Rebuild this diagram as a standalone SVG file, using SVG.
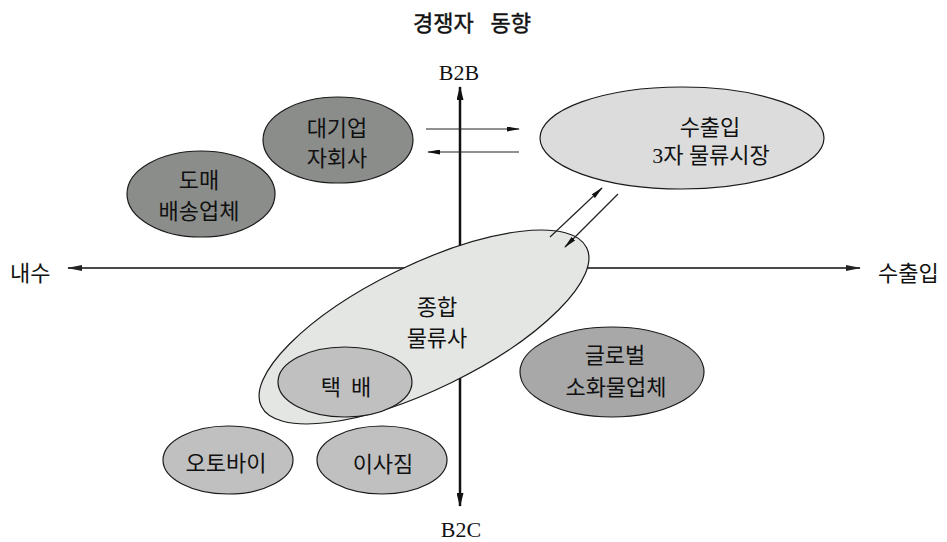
<svg xmlns="http://www.w3.org/2000/svg" width="947" height="542" viewBox="0 0 947 542">
  <style>
    .lbl { font-family: "Liberation Serif", "Noto Sans CJK KR", serif; font-size: 22px; fill: #111; }
    .ko { font-family: "Noto Sans CJK KR", "Liberation Sans", sans-serif; font-size: 22px; fill: #111; }
    .mid { text-anchor: middle; }
    .node { stroke: #1a1a1a; stroke-width: 1.2; }
    .dark { fill: #8b8d8b; }
    .mgrey { fill: #a8a8a8; }
    .lgrey { fill: #c0c0c0; }
    .pale { fill: #dcdcdc; }
    .paler { fill: #e3e6e3; }
    .flow { stroke: #222; stroke-width: 1.2; fill: none; }
  </style>
  <defs>
    <marker id="axisHead" viewBox="0 0 14 7" refX="13" refY="3.5" markerWidth="14" markerHeight="7" markerUnits="userSpaceOnUse" orient="auto-start-reverse">
      <path d="M0,0 L14,3.5 L0,7 Z" fill="#111"/>
    </marker>
    <marker id="hAxisHead" viewBox="0 0 15 6" refX="14" refY="3" markerWidth="15" markerHeight="6" markerUnits="userSpaceOnUse" orient="auto-start-reverse">
      <path d="M0,0 L15,3 L0,6 Z" fill="#222"/>
    </marker>
    <marker id="flowHead" viewBox="0 0 13 5" refX="12" refY="2.5" markerWidth="13" markerHeight="5" markerUnits="userSpaceOnUse" orient="auto">
      <path d="M0,0 L13,2.5 L0,5 Z" fill="#111"/>
    </marker>
  </defs>

  <rect width="947" height="542" fill="#fff"/>

  <!-- title -->
  <text class="ko mid" x="472" y="31" style="font-size:22px;stroke:#111;stroke-width:0.45;word-spacing:12px">경쟁자 동향</text>

  <!-- axes (drawn beneath the nodes) -->
  <g id="axes">
    <line x1="68" y1="268" x2="860" y2="268" stroke="#4a4a4a" stroke-width="2" marker-start="url(#hAxisHead)" marker-end="url(#hAxisHead)"/>
    <line x1="460" y1="506" x2="460" y2="87" stroke="#111" stroke-width="2.5" marker-start="url(#axisHead)" marker-end="url(#axisHead)"/>
    <text class="lbl mid" x="459" y="80">B2B</text>
    <text class="lbl mid" x="461" y="537">B2C</text>
    <text class="ko" x="10" y="281">내수</text>
    <text class="ko" x="878" y="281">수출입</text>
  </g>

  <g id="n-export-market">
    <ellipse class="node pale" cx="682" cy="138" rx="142" ry="51"/>
    <text class="lbl mid" x="710" y="135">수출입</text>
    <text class="lbl mid" x="711" y="163">3자 물류시장</text>
  </g>

  <g id="n-affiliate">
    <ellipse class="node dark" cx="338" cy="140" rx="75" ry="43"/>
    <text class="ko mid" x="337" y="136">대기업</text>
    <text class="ko mid" x="337" y="166">자회사</text>
  </g>

  <g id="n-wholesale">
    <ellipse class="node dark" cx="201" cy="194" rx="74" ry="43"/>
    <text class="ko mid" x="199" y="188">도매</text>
    <text class="ko mid" x="199" y="219">배송업체</text>
  </g>

  <g id="n-global">
    <ellipse class="node mgrey" cx="612" cy="372" rx="92" ry="45"/>
    <text class="ko mid" x="615" y="363">글로벌</text>
    <text class="ko mid" x="616" y="395">소화물업체</text>
  </g>

  <g id="n-general-logistics">
    <ellipse class="node paler" cx="424" cy="327" rx="181" ry="62" transform="rotate(-26 424 327)"/>
    <text class="ko mid" x="437" y="315">종합</text>
    <text class="ko mid" x="437" y="346">물류사</text>
  </g>

  <g id="n-parcel">
    <ellipse class="node lgrey" cx="345" cy="382" rx="67" ry="35"/>
    <text class="ko mid" x="346" y="395" style="word-spacing:5px">택 배</text>
  </g>

  <g id="n-motorbike">
    <ellipse class="node lgrey" cx="228" cy="460" rx="65" ry="34"/>
    <text class="ko mid" x="226" y="471">오토바이</text>
  </g>

  <g id="n-moving">
    <ellipse class="node lgrey" cx="382" cy="460" rx="65" ry="34"/>
    <text class="ko mid" x="383" y="472">이사짐</text>
  </g>

  <!-- flow arrows between the market groups -->
  <g id="connectors">
    <line x1="426" y1="129" x2="519" y2="129" class="flow" marker-end="url(#flowHead)"/>
    <line x1="519" y1="152" x2="428" y2="152" class="flow" marker-end="url(#flowHead)"/>
    <line x1="550" y1="237" x2="602" y2="188" class="flow" marker-end="url(#flowHead)"/>
    <line x1="618" y1="194" x2="565" y2="247" class="flow" marker-end="url(#flowHead)"/>
  </g>
</svg>
